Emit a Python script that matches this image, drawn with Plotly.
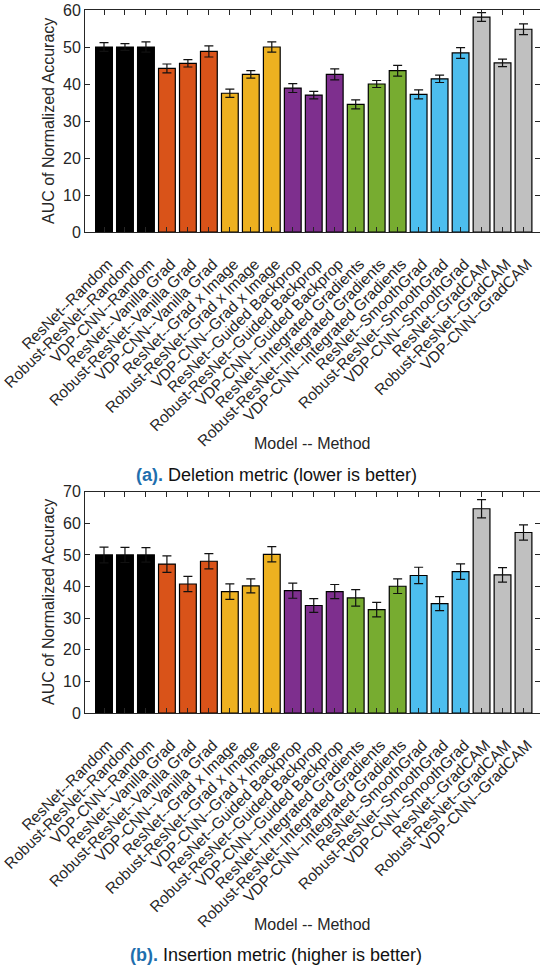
import plotly.graph_objects as go

labels = ["ResNet--Random", "Robust-ResNet--Random", "VDP-CNN--Random",
          "ResNet--Vanilla Grad", "Robust-ResNet--Vanilla Grad", "VDP-CNN--Vanilla Grad",
          "ResNet--Grad x Image", "Robust-ResNet--Grad x Image", "VDP-CNN--Grad x Image",
          "ResNet--Guided Backprop", "Robust-ResNet--Guided Backprop", "VDP-CNN--Guided Backprop",
          "ResNet--Integrated Gradients", "Robust-ResNet--Integrated Gradients", "VDP-CNN--Integrated Gradients",
          "ResNet--SmoothGrad", "Robust-ResNet--SmoothGrad", "VDP-CNN--SmoothGrad",
          "ResNet--GradCAM", "Robust-ResNet--GradCAM", "VDP-CNN--GradCAM"]

deletion = [50.0, 50.0, 50.0, 44.2, 45.6, 48.8, 37.5, 42.6, 50.0, 38.9, 37.0, 42.6,
            34.5, 40.0, 43.6, 37.2, 41.4, 48.4, 58.1, 45.7, 54.8]
deletion_err = [1.2, 0.9, 1.4, 1.2, 1.0, 1.5, 1.1, 1.0, 1.4, 1.2, 1.0, 1.5,
                1.2, 0.95, 1.45, 1.2, 1.0, 1.45, 1.2, 1.0, 1.45]

insertion = [50.0, 50.0, 50.0, 47.1, 40.8, 48.0, 38.4, 40.2, 50.2, 38.7, 34.0, 38.4,
             36.4, 32.7, 40.1, 43.5, 34.6, 44.7, 64.6, 43.7, 57.1]
insertion_err = [2.5, 2.4, 2.3, 2.6, 2.4, 2.4, 2.45, 2.2, 2.4, 2.4, 2.2, 2.25,
                 2.6, 2.3, 2.3, 2.6, 2.2, 2.45, 2.9, 2.3, 2.4]

method_colors = ["#000000", "#D95319", "#EDB120", "#7E2F8E", "#77AC30", "#4DBEEE", "#C0C0C0"]
colors = [c for c in method_colors for _ in range(3)]

W, H = 540, 971


def px_x(s):
    return s / W


def px_y(s):
    return (H - s) / H


xpos = list(range(1, len(labels) + 1))
axc = "#262626"
font_family = "Liberation Sans, Arial, sans-serif"

fig = go.Figure()


def add_bars(vals, errs, xa, ya):
    fig.add_trace(go.Bar(
        x=xpos, y=vals, xaxis=xa, yaxis=ya, width=0.8,
        marker=dict(color=colors, line=dict(color="#000000", width=1.2)),
        error_y=dict(type="data", array=errs, visible=True, color="#111111",
                     thickness=1.2, width=4.5),
        showlegend=False, hoverinfo="x+y"))


add_bars(deletion, deletion_err, "x", "y")
add_bars(insertion, insertion_err, "x2", "y2")

xrange = [1 - 19 / 20.98, 21 + 16.5 / 20.98]
top_dom = [px_y(232), px_y(10)]
bot_dom = [px_y(713), px_y(491.7)]

xcommon = dict(domain=[px_x(85), 1], range=xrange, tickmode="array", tickvals=xpos,
               ticktext=labels, tickangle=-45, ticks="inside", ticklen=5,
               tickcolor=axc, showline=True, linecolor=axc, linewidth=1,
               mirror="ticks", showgrid=False, zeroline=False,
               ticklabeloverflow="allow", ticklabelstandoff=16, ticklabelshift=4,
               tickfont=dict(family=font_family, size=15.5, color=axc),
               automargin=False)
ycommon = dict(ticks="inside", ticklen=5, tickcolor=axc, showline=True,
               linecolor=axc, linewidth=1, mirror="ticks", showgrid=False,
               zeroline=False, dtick=10, ticklabeloverflow="allow",
               tickfont=dict(family=font_family, size=16, color=axc),
               automargin=False)

fig.update_layout(
    width=W, height=H, margin=dict(l=0, r=0, t=0, b=0),
    paper_bgcolor="white", plot_bgcolor="white", bargap=0.2,
    xaxis=dict(anchor="y", **xcommon),
    yaxis=dict(anchor="x", domain=top_dom, range=[0, 60], **ycommon),
    xaxis2=dict(anchor="y2", **xcommon),
    yaxis2=dict(anchor="x2", domain=bot_dom, range=[0, 70], **ycommon),
)

ann_font = dict(family=font_family, size=16, color=axc)
cap_font = dict(family=font_family, size=18, color="#111111")
cap_color = "#1F6FAE"
plot_cx = px_x((85 + 540) / 2)

anns = [
    dict(text="AUC of Normalized Accuracy", x=px_x(48), y=px_y(121),
         textangle=-90, font=ann_font),
    dict(text="AUC of Normalized Accuracy", x=px_x(48), y=px_y(602),
         textangle=-90, font=ann_font),
    dict(text="Model -- Method", x=plot_cx, y=px_y(443), font=ann_font),
    dict(text="Model -- Method", x=plot_cx, y=px_y(924), font=ann_font),
    dict(text="<b><span style='color:%s'>(a).</span></b> Deletion metric (lower is better)" % cap_color,
         x=px_x(276), y=px_y(475), font=cap_font),
    dict(text="<b><span style='color:%s'>(b).</span></b> Insertion metric (higher is better)" % cap_color,
         x=px_x(276), y=px_y(955), font=cap_font),
]
for a in anns:
    a.update(xref="paper", yref="paper", showarrow=False,
             xanchor="center", yanchor="middle")
fig.update_layout(annotations=anns)

# remove the default 8px body margin so the figure fills the window exactly
fig.write_html("out.html", config={"displayModeBar": False},
               post_script="document.body.style.margin='0';document.body.style.overflow='hidden';")
